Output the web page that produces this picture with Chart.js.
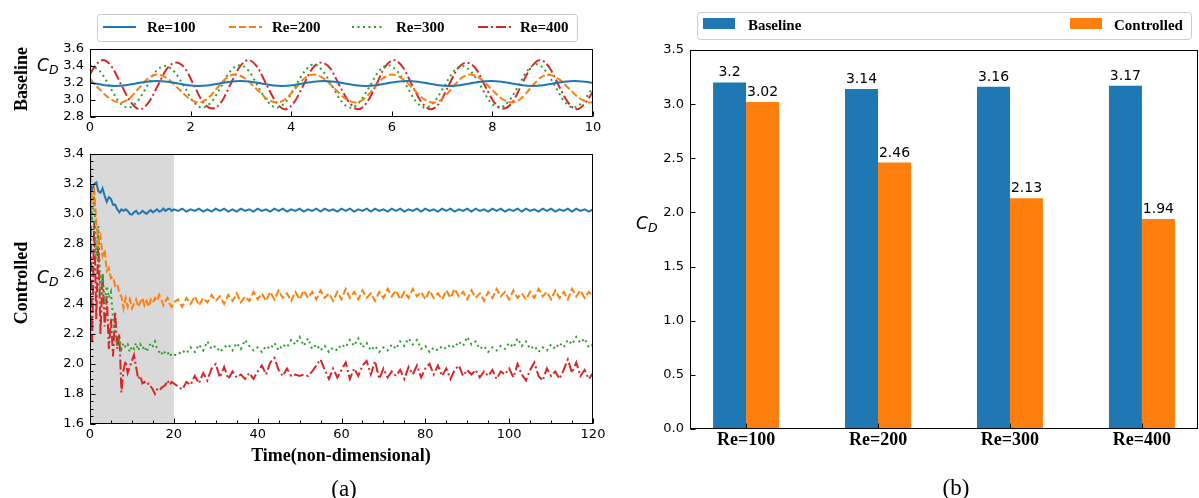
<!DOCTYPE html>
<html><head><meta charset="utf-8">
<script src="https://cdn.jsdelivr.net/npm/chart.js@4.4.1/dist/chart.umd.min.js"></script>
<style>
html,body{margin:0;padding:0;background:#fff;}
#wrap{position:relative;width:1199px;height:498px;overflow:hidden;background:#fff;}
canvas{position:absolute;}
.lbl{position:absolute;white-space:nowrap;color:#000;line-height:1;}
.serifb{font-family:"Liberation Serif","Times New Roman",serif;font-weight:bold;font-size:18px;}
.serif{font-family:"Liberation Serif","Times New Roman",serif;font-size:23px;}
.rot{transform:translate(-50%,-50%) rotate(-90deg);}
.ctr{transform:translate(-50%,-50%);}
.cd{font-family:"DejaVu Sans",sans-serif;font-size:17px;}
.cd i{font-style:oblique;}
.cd span{font-size:12.5px;font-style:oblique;position:relative;top:3px;}
</style></head>
<body><div id="wrap">
<canvas id="cTop" width="610" height="140" style="left:0;top:0;width:610px;height:140px"></canvas>
<canvas id="cBot" width="610" height="358" style="left:0;top:140px;width:610px;height:358px"></canvas>
<canvas id="cBar" width="599" height="498" style="left:600px;top:0;width:599px;height:498px"></canvas>
<div class="lbl serifb rot" style="left:21px;top:79px">Baseline</div>
<div class="lbl serifb rot" style="left:21px;top:283px">Controlled</div>
<div class="lbl serifb ctr" style="left:341px;top:455px">Time(non-dimensional)</div>
<div class="lbl serif ctr" style="left:344px;top:488px">(a)</div>
<div class="lbl serif ctr" style="left:956px;top:487px">(b)</div>
<div class="lbl cd" style="left:37px;top:57px"><i>C</i><span>D</span></div>
<div class="lbl cd" style="left:37px;top:269px"><i>C</i><span>D</span></div>
<div class="lbl cd" style="left:636px;top:215px"><i>C</i><span>D</span></div>
</div>
<script>
// ---------------- DATA ----------------
const seriesNames = ['Re=100', 'Re=200', 'Re=300', 'Re=400'];

// (a) top: baseline drag coefficient vs time
const tBase100 = [0,0.085,0.29,0.50,0.71,0.915,1.12,1.33,1.54,1.745,1.95,2.16,2.37,2.575,2.78,2.99,3.20,3.405,3.61,3.82,4.03,4.235,4.44,4.65,4.86,5.065,5.27,5.48,5.69,5.895,6.10,6.31,6.52,6.725,6.93,7.14,7.35,7.555,7.76,7.97,8.18,8.385,8.59,8.80,9.01,9.215,9.42,9.63,9.84,10];
const cdBase100 = [3.205,3.195,
  3.174,3.165,3.174,3.195,3.216,3.225,3.216,3.195,
  3.174,3.165,3.174,3.195,3.216,3.225,3.216,3.195,
  3.174,3.165,3.174,3.195,3.216,3.225,3.216,3.195,
  3.174,3.165,3.174,3.195,3.216,3.225,3.216,3.195,
  3.174,3.165,3.174,3.195,3.216,3.225,3.216,3.195,
  3.174,3.165,3.174,3.195,3.216,3.225,3.216,3.20];
const tBase200 = [0,0.175,0.39,0.60,0.78,0.965,1.15,1.33,1.54,1.755,1.97,2.16,2.34,2.52,2.70,2.88,3.09,3.30,3.51,3.72,3.90,4.08,4.26,4.44,4.65,4.86,5.07,5.28,5.46,5.64,5.82,6.00,6.21,6.42,6.62,6.83,7.01,7.19,7.37,7.55,7.76,7.97,8.18,8.39,8.57,8.75,8.93,9.10,9.31,9.52,9.74,9.95,10];
const cdBase200 = [3.25,
  3.135,3.018,2.97,3.018,3.135,3.252,3.30,3.252,
  3.135,3.018,2.97,3.018,3.135,3.252,3.30,3.252,
  3.135,3.018,2.97,3.018,3.135,3.252,3.30,3.252,
  3.135,3.018,2.97,3.018,3.135,3.252,3.30,3.252,
  3.135,3.018,2.97,3.018,3.135,3.252,3.30,3.252,
  3.135,3.018,2.97,3.018,3.135,3.252,3.30,3.252,
  3.135,3.018,2.97,2.975];
const tBase300 = [0,0.20,0.39,0.57,0.76,0.94,1.13,1.31,1.50,1.68,1.87,2.05,2.24,2.42,2.61,2.79,2.98,3.16,3.34,3.53,3.71,3.90,4.08,4.27,4.45,4.63,4.82,5.00,5.19,5.37,5.56,5.74,5.93,6.11,6.30,6.48,6.67,6.85,7.04,7.22,7.40,7.58,7.77,7.95,8.14,8.32,8.51,8.69,8.88,9.06,9.25,9.43,9.62,9.80,10];
const cdBase300 = [3.41,3.337,3.16,2.983,2.91,2.983,3.16,3.337,3.40,3.33,3.16,2.983,2.91,2.983,3.16,3.34,3.41,3.34,3.16,2.983,2.91,2.983,3.16,3.34,3.42,3.34,3.16,2.983,2.91,2.983,3.16,3.337,3.41,3.337,3.16,2.983,2.91,2.983,3.16,3.33,3.40,3.33,3.16,2.983,2.91,2.983,3.16,3.34,3.42,3.34,3.16,2.983,2.91,2.983,3.15];
const tBase400 = [0,0.08,0.26,0.44,0.62,0.81,0.99,1.17,1.35,1.53,1.71,1.89,2.07,2.25,2.43,2.61,2.79,2.97,3.15,3.33,3.51,3.70,3.88,4.06,4.24,4.42,4.60,4.78,4.96,5.15,5.33,5.51,5.69,5.86,6.04,6.22,6.40,6.59,6.78,6.96,7.13,7.31,7.49,7.67,7.85,8.04,8.22,8.40,8.58,8.77,8.95,9.13,9.31,9.50,9.68,9.86,10];
const cdBase400 = [3.30,3.385,3.47,3.385,3.18,2.975,2.89,2.975,3.17,3.37,3.44,3.37,3.17,2.97,2.90,2.975,3.18,3.385,3.47,3.385,3.18,2.975,2.89,2.975,3.17,3.37,3.44,3.37,3.17,2.975,2.89,2.975,3.18,3.385,3.47,3.385,3.18,2.975,2.89,2.975,3.17,3.37,3.44,3.37,3.17,2.97,2.90,2.975,3.18,3.385,3.47,3.385,3.18,2.975,2.89,2.975,3.10];

// (a) bottom: controlled drag coefficient vs time
const tTransient = [0,0.5,1,1.5,2,2.5,3,3.5,4,4.5,5,5.5,6,6.5,7,7.5,8,8.5,9,9.5,10,10.5,11,11.5,12,12.5,13,13.5,14,14.5,15,15.5,16,16.5,17,17.5,18,18.5,19,19.5,20];
const tSteady = [21,22,23,24,25,26,27,28,29,30,31,32,33,34,35,36,37,38,39,40,41,42,43,44,45,46,47,48,49,50,51,52,53,54,55,56,57,58,59,60,61,62,63,64,65,66,67,68,69,70,71,72,73,74,75,76,77,78,79,80,81,82,83,84,85,86,87,88,89,90,91,92,93,94,95,96,97,98,99,100,101,102,103,104,105,106,107,108,109,110,111,112,113,114,115,116,117,118,119,120];

const cdCtrl100Transient = [3.20,3.16,3.20,3.21,3.15,3.14,3.17,3.12,3.08,3.11,
  3.10,3.06,3.06,3.03,3.01,3.03,3.02,3.03,3.02,3.00,
  2.995,3.01,3.02,3.00,3.005,3.02,3.01,3.00,3.015,3.025,
  3.01,3.02,3.03,3.015,3.02,3.035,3.02,3.03,3.035,3.02,
  3.03];
const cdCtrl100Steady = [3.02,3.035,3.015,3.03,3.02,3.035,3.015,3.03,3.015,3.035,
  3.02,3.035,3.015,3.03,3.015,3.035,3.02,3.03,3.015,3.035,
  3.02,3.03,3.015,3.035,3.02,3.035,3.015,3.03,3.02,3.035,
  3.015,3.03,3.02,3.035,3.015,3.035,3.02,3.03,3.015,3.035,
  3.02,3.035,3.015,3.03,3.02,3.035,3.015,3.035,3.02,3.03,
  3.015,3.035,3.02,3.035,3.015,3.03,3.02,3.035,3.015,3.035,
  3.02,3.03,3.015,3.035,3.02,3.035,3.015,3.03,3.02,3.035,
  3.015,3.035,3.02,3.03,3.015,3.035,3.02,3.035,3.015,3.03,
  3.02,3.035,3.015,3.035,3.02,3.03,3.015,3.035,3.02,3.035,
  3.015,3.03,3.02,3.035,3.015,3.035,3.02,3.03,3.015,3.03];

const cdCtrl200Transient = [3.20,3.10,3.15,2.95,2.80,2.85,2.72,2.76,2.62,2.64,
  2.57,2.58,2.52,2.53,2.47,2.45,2.37,2.44,2.38,2.43,
  2.37,2.40,2.43,2.38,2.41,2.44,2.39,2.42,2.38,2.43,
  2.41,2.44,2.42,2.46,2.43,2.39,2.42,2.44,2.40,2.38,
  2.41];
const cdCtrl200Steady = [2.43,2.38,2.44,2.40,2.45,2.39,2.44,2.41,2.46,2.42,
  2.45,2.40,2.46,2.42,2.47,2.41,2.45,2.42,2.48,2.43,
  2.47,2.42,2.48,2.43,2.49,2.44,2.47,2.42,2.48,2.43,
  2.49,2.44,2.48,2.43,2.49,2.44,2.47,2.42,2.48,2.43,
  2.50,2.44,2.48,2.43,2.49,2.44,2.47,2.42,2.48,2.44,
  2.50,2.45,2.49,2.43,2.48,2.44,2.50,2.45,2.48,2.43,
  2.49,2.44,2.47,2.43,2.49,2.44,2.50,2.45,2.48,2.43,
  2.49,2.44,2.47,2.42,2.48,2.44,2.50,2.45,2.48,2.43,
  2.49,2.44,2.47,2.43,2.48,2.44,2.50,2.45,2.48,2.43,
  2.49,2.44,2.48,2.43,2.50,2.45,2.49,2.44,2.48,2.45];

const cdCtrl300Transient = [3.20,2.95,3.12,2.70,2.92,2.45,2.60,2.40,2.52,2.44,
  2.48,2.30,2.20,2.12,2.17,2.10,2.14,2.11,2.13,2.08,
  2.12,2.10,2.14,2.09,2.13,2.10,2.12,2.08,2.11,2.14,
  2.12,2.15,2.10,2.08,2.06,2.09,2.07,2.08,2.05,2.07,
  2.06];
const cdCtrl300Steady = [2.06,2.09,2.07,2.11,2.08,2.13,2.09,2.15,2.10,2.12,
  2.08,2.11,2.13,2.09,2.14,2.10,2.16,2.12,2.09,2.11,
  2.08,2.12,2.10,2.14,2.09,2.13,2.11,2.16,2.13,2.18,
  2.12,2.17,2.10,2.13,2.09,2.12,2.08,2.11,2.09,2.13,
  2.11,2.16,2.12,2.17,2.11,2.14,2.09,2.12,2.08,2.11,
  2.09,2.13,2.10,2.15,2.12,2.17,2.13,2.16,2.10,2.12,
  2.08,2.11,2.09,2.12,2.10,2.13,2.11,2.15,2.12,2.18,
  2.13,2.15,2.10,2.12,2.08,2.11,2.09,2.12,2.10,2.14,
  2.11,2.17,2.12,2.15,2.10,2.12,2.08,2.11,2.09,2.13,
  2.10,2.14,2.11,2.16,2.13,2.18,2.14,2.17,2.11,2.13];

const cdCtrl400Transient = [3.40,2.15,2.95,2.30,2.85,2.20,2.60,2.25,2.45,2.10,
  2.30,2.05,2.35,2.10,2.20,1.81,1.96,2.02,1.94,1.98,
  2.02,2.06,1.98,1.90,1.92,1.87,1.88,1.86,1.87,1.85,
  1.83,1.80,1.83,1.82,1.84,1.85,1.86,1.89,1.86,1.88,
  1.87];
const cdCtrl400Steady = [1.85,1.83,1.88,1.86,1.92,1.87,1.94,1.89,1.97,2.00,
  1.91,1.98,1.90,1.95,1.91,1.93,1.90,1.94,1.90,1.95,
  1.99,1.93,2.01,2.04,1.96,1.92,1.97,1.92,1.93,1.92,
  1.93,1.92,1.95,1.99,2.03,1.96,1.90,1.97,1.91,1.96,
  2.01,1.90,1.97,1.92,1.99,2.02,1.93,2.02,1.90,1.97,
  1.91,1.95,1.92,1.96,1.90,1.98,1.93,1.99,1.91,1.97,
  2.00,1.93,1.99,1.92,1.97,1.90,1.96,1.99,1.92,1.96,
  1.93,1.96,1.91,1.95,1.92,1.96,1.90,1.95,1.93,1.97,
  1.91,2.00,1.93,1.89,1.96,2.01,1.92,1.89,1.97,1.92,
  1.95,1.90,1.96,2.03,1.94,2.01,1.92,1.96,1.90,1.94];

const controlWindow = [0, 20];   // shaded time span

// (b) bar chart
const barCategories = ['Re=100', 'Re=200', 'Re=300', 'Re=400'];
const barSeriesNames = ['Baseline', 'Controlled'];
const cdBaselineMean = [3.2, 3.14, 3.16, 3.17];
const cdControlledMean = [3.02, 2.46, 2.13, 1.94];

// ---------------- STYLE ----------------
const colors = ['#1f77b4', '#ff7f0e', '#2ca02c', '#d62728'];
const dashes = [[], [7, 3], [2, 3.5], [10, 3, 2, 3]];

Chart.defaults.color = '#000';
Chart.defaults.font.family = '"DejaVu Sans", sans-serif';
Chart.defaults.font.size = 13;
const tickFont = {family: '"DejaVu Sans", sans-serif', size: 13};

// frame + inward ticks (matplotlib style)
const axesFrame = {
  id: 'axesFrame',
  afterDraw(chart, args, o) {
    const {ctx, chartArea: a} = chart;
    const xs = chart.scales.x, ys = chart.scales.y;
    const L = Math.round(a.left) + 0.5, R = Math.round(a.right) - 0.5;
    const T = Math.round(a.top) + 0.5, B = Math.round(a.bottom) - 0.5;
    ctx.save();
    ctx.strokeStyle = '#000';
    ctx.lineWidth = 1;
    ctx.setLineDash([]);
    ctx.beginPath();
    const major = 5, minor = 3;
    xs.ticks.forEach(t => {
      const p = Math.round(xs.getPixelForValue(t.value)) + 0.5;
      ctx.moveTo(p, B); ctx.lineTo(p, B - major);
    });
    ys.ticks.forEach(t => {
      const p = Math.round(ys.getPixelForValue(t.value)) + 0.5;
      ctx.moveTo(L, p); ctx.lineTo(L + major, p);
    });
    if (o && o.xMinor) {
      for (let v = xs.min; v <= xs.max + 1e-9; v += o.xMinor) {
        const p = Math.round(xs.getPixelForValue(v)) + 0.5;
        ctx.moveTo(p, B); ctx.lineTo(p, B - minor);
      }
    }
    if (o && o.yMinor) {
      const n = Math.round((ys.max - ys.min) / o.yMinor);
      for (let k = 0; k <= n; k++) {
        const p = Math.round(ys.getPixelForValue(ys.min + k * o.yMinor)) + 0.5;
        ctx.moveTo(L, p); ctx.lineTo(L + minor, p);
      }
    }
    ctx.stroke();
    ctx.strokeRect(L, T, R - L, B - T);
    ctx.restore();
  }
};

function roundRectPath(ctx, x, y, w, h, r) {
  ctx.beginPath();
  ctx.moveTo(x + r, y);
  ctx.lineTo(x + w - r, y); ctx.arcTo(x + w, y, x + w, y + r, r);
  ctx.lineTo(x + w, y + h - r); ctx.arcTo(x + w, y + h, x + w - r, y + h, r);
  ctx.lineTo(x + r, y + h); ctx.arcTo(x, y + h, x, y + h - r, r);
  ctx.lineTo(x, y + r); ctx.arcTo(x, y, x + r, y, r);
  ctx.closePath();
}

const legendBox = {
  id: 'legendBox',
  afterDraw(chart, args, o) {
    if (!o || !o.frame) return;
    const ctx = chart.ctx;
    const f = o.frame;
    ctx.save();
    roundRectPath(ctx, f.x + 0.5, f.y + 0.5, f.w, f.h, 3);
    ctx.fillStyle = 'rgba(255,255,255,0.85)';
    ctx.fill();
    ctx.strokeStyle = '#cccccc';
    ctx.lineWidth = 1;
    ctx.stroke();
    ctx.font = 'bold 15px "Liberation Serif", "Times New Roman", serif';
    ctx.textAlign = 'left';
    ctx.textBaseline = 'alphabetic';
    chart.data.datasets.forEach((ds, i) => {
      const hx = o.handleX[i];
      if (o.kind === 'line') {
        ctx.save();
        ctx.strokeStyle = ds.borderColor;
        ctx.lineWidth = ds.borderWidth;
        ctx.setLineDash(ds.borderDash || []);
        ctx.beginPath();
        ctx.moveTo(hx, o.lineY); ctx.lineTo(hx + o.handleW, o.lineY);
        ctx.stroke();
        ctx.restore();
      } else {
        ctx.fillStyle = ds.backgroundColor;
        ctx.fillRect(hx, o.boxY, o.handleW, o.boxH);
      }
      ctx.fillStyle = '#000';
      ctx.fillText(ds.label, o.textX[i], o.textY);
    });
    ctx.restore();
  }
};

const shade = {
  id: 'shade',
  beforeDatasetsDraw(chart, args, o) {
    if (!o || !o.span) return;
    const {ctx, chartArea: a} = chart;
    const x0 = chart.scales.x.getPixelForValue(o.span[0]);
    const x1 = chart.scales.x.getPixelForValue(o.span[1]);
    ctx.save();
    ctx.fillStyle = '#d9d9d9';
    ctx.fillRect(x0, a.top, x1 - x0, a.bottom - a.top);
    ctx.restore();
  }
};

const barValues = {
  id: 'barValues',
  afterDatasetsDraw(chart) {
    const ctx = chart.ctx;
    ctx.save();
    ctx.font = '14px "DejaVu Sans", sans-serif';
    ctx.fillStyle = '#000';
    ctx.textAlign = 'center';
    ctx.textBaseline = 'alphabetic';
    chart.data.datasets.forEach((ds, di) => {
      chart.getDatasetMeta(di).data.forEach((el, i) => {
        ctx.fillText(String(ds.data[i].y), el.x, el.y - 6);
      });
    });
    ctx.restore();
  }
};

function xAxis(min, max, step, fmt, height, pad, font) {
  return {
    type: 'linear', position: 'bottom', min, max, offset: false,
    grid: {display: false, drawTicks: false}, border: {display: false},
    ticks: {stepSize: step, autoSkip: false, maxRotation: 0, minRotation: 0, padding: pad,
            includeBounds: false, font: font || tickFont, color: '#000', callback: fmt},
    afterFit(s) { s.height = height; }
  };
}
function yAxis(min, max, step) {
  return {
    type: 'linear', min, max,
    grid: {display: false, drawTicks: false}, border: {display: false},
    ticks: {stepSize: step, autoSkip: false, padding: 6, font: tickFont, color: '#000',
            callback: v => Number(v).toFixed(1)},
    afterFit(s) { s.width = 90; }
  };
}
const base = {responsive: false, animation: false, devicePixelRatio: 1, events: []};

function lineDs(i, pts, tension) {
  return {
    label: seriesNames[i], data: pts, borderColor: colors[i], backgroundColor: colors[i],
    borderWidth: 2, borderDash: dashes[i], pointRadius: 0, fill: false,
    cubicInterpolationMode: tension ? 'monotone' : 'default', tension: 0
  };
}
const zip = (t, y) => t.map((x, k) => ({x, y: y[k]}));

// ---------- top chart ----------
const topSeries = [[tBase100, cdBase100], [tBase200, cdBase200], [tBase300, cdBase300], [tBase400, cdBase400]];
new Chart(document.getElementById('cTop'), {
  type: 'line',
  data: {datasets: topSeries.map((s, i) => lineDs(i, zip(s[0], s[1]), true))},
  options: Object.assign({}, base, {
    parsing: true,
    layout: {padding: {left: 0, right: 17, top: 49, bottom: 3}},
    scales: {
      x: xAxis(0, 10, 2, v => String(v), 20, 3),
      y: yAxis(2.8, 3.6, 0.2)
    },
    plugins: {
      legend: {display: false}, tooltip: {enabled: false},
      legendBox: {kind: 'line', frame: {x: 97, y: 14, w: 480, h: 27},
                  handleX: [103, 229, 352, 478], handleW: 33, lineY: 27,
                  textX: [147, 272, 396, 520], textY: 32}
    }
  }),
  plugins: [axesFrame, legendBox]
});

// ---------- bottom chart ----------
const tControlled = tTransient.concat(tSteady);
const ctrlSeries = [
  cdCtrl100Transient.concat(cdCtrl100Steady),
  cdCtrl200Transient.concat(cdCtrl200Steady),
  cdCtrl300Transient.concat(cdCtrl300Steady),
  cdCtrl400Transient.concat(cdCtrl400Steady)
];
new Chart(document.getElementById('cBot'), {
  type: 'line',
  data: {labels: tControlled, datasets: ctrlSeries.map((s, i) => lineDs(i, s, false))},
  options: Object.assign({}, base, {
    layout: {padding: {left: 0, right: 17, top: 12, bottom: 54}},
    scales: {
      x: xAxis(0, 120, 20, v => String(v), 20, 3),
      y: yAxis(1.6, 3.4, 0.2)
    },
    plugins: {
      legend: {display: false}, tooltip: {enabled: false},
      shade: {span: controlWindow},
      axesFrame: {xMinor: 5, yMinor: 0.05}
    }
  }),
  plugins: [shade, axesFrame]
});

// ---------- bar chart ----------
const barColors = ['#1f77b4', '#ff7f0e'];
new Chart(document.getElementById('cBar'), {
  type: 'bar',
  data: {
    datasets: [cdBaselineMean, cdControlledMean].map((vals, i) => ({
      label: barSeriesNames[i],
      data: vals.map((v, k) => ({x: k, y: v})),
      backgroundColor: barColors[i], borderWidth: 0,
      categoryPercentage: 0.5, barPercentage: 1.0
    }))
  },
  options: Object.assign({}, base, {
    layout: {padding: {left: 0, right: 1, top: 50, bottom: 39}},
    scales: {
      x: xAxis(-0.425, 3.425, 1, v => (barCategories[v] !== undefined ? barCategories[v] : ''), 30, 1,
               {family: '"Liberation Serif", "Times New Roman", serif', size: 18, weight: 'bold'}),
      y: yAxis(0, 3.5, 0.5)
    },
    plugins: {
      legend: {display: false}, tooltip: {enabled: false},
      legendBox: {kind: 'box', frame: {x: 97, y: 12, w: 494, h: 27},
                  handleX: [103, 470], handleW: 32, boxY: 18, boxH: 11,
                  textX: [148, 514], textY: 29.5}
    }
  }),
  plugins: [barValues, axesFrame, legendBox]
});
</script>
</body></html>
